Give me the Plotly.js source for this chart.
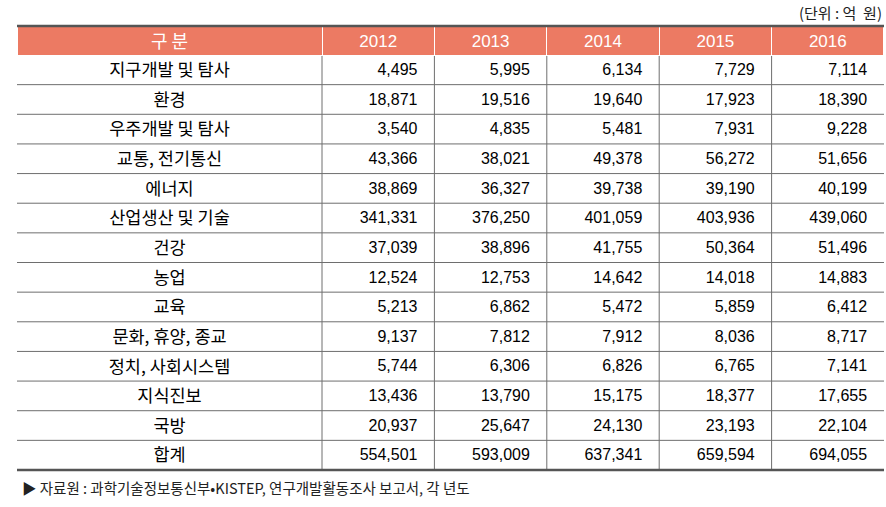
<!DOCTYPE html>
<html>
<head>
<meta charset="utf-8">
<script src="https://cdn.plot.ly/plotly-3.0.1.min.js"></script>
<style>html,body{margin:0;padding:0;background:#fff;}#chart{width:886px;height:507px;}</style>
</head>
<body>
<div id="chart"></div>
<script>
const headerLabels = ['구 분', '2012', '2013', '2014', '2015', '2016'];
const categories = ['지구개발 및 탐사', '환경', '우주개발 및 탐사', '교통, 전기통신', '에너지', '산업생산 및 기술', '건강', '농업', '교육', '문화, 휴양, 종교', '정치, 사회시스템', '지식진보', '국방', '합계'];
const v2012 = [4495, 18871, 3540, 43366, 38869, 341331, 37039, 12524, 5213, 9137, 5744, 13436, 20937, 554501];
const v2013 = [5995, 19516, 4835, 38021, 36327, 376250, 38896, 12753, 6862, 7812, 6306, 13790, 25647, 593009];
const v2014 = [6134, 19640, 5481, 49378, 39738, 401059, 41755, 14642, 5472, 7912, 6826, 15175, 24130, 637341];
const v2015 = [7729, 17923, 7931, 56272, 39190, 403936, 50364, 14018, 5859, 8036, 6765, 18377, 23193, 659594];
const v2016 = [7114, 18390, 9228, 51656, 40199, 439060, 51496, 14883, 6412, 8717, 7141, 17655, 22104, 694055];
const unitText = '(단위 : 억  원)';
const sourceText = '▶ 자료원 : 과학기술정보통신부•KISTEP, 연구개발활동조사 보고서, 각 년도';

const FONT = 'Liberation Sans, Noto Sans CJK KR, sans-serif';
const KFONT = 'Noto Sans CJK KR, Liberation Sans, sans-serif';
const lineCol = '#6e6e6e';

// geometry (pixels) for the table area
const TABLE_H = 444, HDR_H = 29, ROW_H = (TABLE_H - HDR_H) / categories.length;
const colW = [305, 112.4, 112.4, 112.4, 112.4, 112.4];
const totalW = colW.reduce((a, b) => a + b, 0);
const hdrBottom = 1 - HDR_H / TABLE_H;

const trace = {
  type: 'table',
  columnwidth: colW,
  header: {
    values: headerLabels,
    align: 'center',
    height: HDR_H,
    fill: {color: '#EC7A63'},
    line: {color: '#ffffff', width: 1},
    font: {family: [KFONT, FONT, FONT, FONT, FONT, FONT], size: [18, 17, 17, 17, 17, 17], color: '#ffffff'}
  },
  cells: {
    values: [categories, v2012, v2013, v2014, v2015, v2016],
    format: ['', ',', ',', ',', ',', ','],
    suffix: ['', '\u00a0\u00a0', '\u00a0\u00a0', '\u00a0\u00a0', '\u00a0\u00a0', '\u00a0\u00a0'],
    align: ['center', 'right', 'right', 'right', 'right', 'right'],
    height: ROW_H,
    fill: {color: 'rgba(0,0,0,0)'},
    line: {color: 'rgba(0,0,0,0)', width: 0},
    font: {family: [KFONT, FONT, FONT, FONT, FONT, FONT], size: [17.5, 16, 16, 16, 16, 16], color: '#000000'}
  }
};

const shapes = [];
// horizontal row separators (between data rows and under header)
for (let i = 0; i < categories.length; i++) {
  const y = 1 - (HDR_H + i * ROW_H) / TABLE_H;
  shapes.push({type: 'line', xref: 'paper', yref: 'paper', x0: 0, x1: 1, y0: y, y1: y, line: {color: lineCol, width: 1}, layer: 'below'});
}
// internal vertical separators in data area
let acc = 0;
for (let j = 0; j < colW.length - 1; j++) {
  acc += colW[j];
  const x = acc / totalW;
  shapes.push({type: 'line', xref: 'paper', yref: 'paper', x0: x, x1: x, y0: 0, y1: hdrBottom, line: {color: lineCol, width: 1}, layer: 'below'});
}
// thick top and bottom rules
shapes.push({type: 'line', xref: 'paper', yref: 'paper', x0: 0, x1: 1, y0: 1, y1: 1, line: {color: '#555555', width: 2.5}, layer: 'above'});
shapes.push({type: 'line', xref: 'paper', yref: 'paper', x0: 0, x1: 1, y0: 0, y1: 0, line: {color: '#555555', width: 2.5}, layer: 'above'});

const layout = {
  width: 886, height: 507,
  margin: {l: 17, r: 2, t: 26, b: 37},
  paper_bgcolor: '#ffffff',
  plot_bgcolor: '#ffffff',
  showlegend: false,
  shapes: shapes,
  annotations: [
    {text: unitText, xref: 'paper', yref: 'paper', x: 1, y: 1, yshift: 14, xanchor: 'right', yanchor: 'middle', showarrow: false, font: {family: KFONT, size: 15, color: '#222222'}},
    {text: sourceText, xref: 'paper', yref: 'paper', x: 0, y: 0, xshift: 3, yshift: -17, xanchor: 'left', yanchor: 'middle', showarrow: false, font: {family: KFONT, size: 14.5, color: '#222222'}}
  ]
};

Plotly.newPlot('chart', [trace], layout, {displayModeBar: false, staticPlot: true});
</script>
</body>
</html>
